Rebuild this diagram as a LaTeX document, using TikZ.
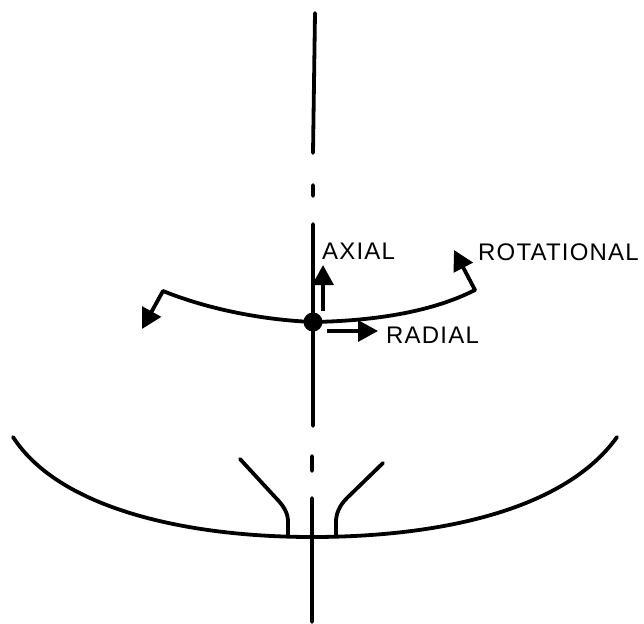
\documentclass[tikz,border=0pt]{standalone}
\usepackage{fontspec}
\setmainfont[LetterSpace=5]{Liberation Sans}
\usetikzlibrary{arrows.meta}
\tikzset{
  ink/.style={line width=3.8pt,black,line cap=round,line join=round},
  axisline/.style={line width=3.8pt,black,line cap=round},
  thin ink/.style={line width=3.3pt,black,line cap=butt},
  bigtip/.style={-{Triangle[length=20pt,width=21pt]}},
  lab/.style={font=\fontsize{24pt}{28pt}\selectfont,inner sep=0pt,anchor=base west,black}
}
\begin{document}
\begin{tikzpicture}[x=1pt,y=-1pt]
\useasboundingbox (0,0) rectangle (644,623);
% axis
\coordinate (a0) at (315,13); \coordinate (a1) at (313,153);
\coordinate (b0) at (313,185); \coordinate (b1) at (313,196);
\coordinate (c0) at (313,224); \coordinate (c1) at (313,426);
\coordinate (e0) at (312,456); \coordinate (e1) at (312,471);
\coordinate (f0) at (312,498); \coordinate (f1) at (312,622);
\draw[axisline] (a0)--(a1) (b0)--(b1) (c0)--(c1) (e0)--(e1) (f0)--(f1);
% ball
\node[circle,fill=black,minimum size=19pt,inner sep=0pt] (ball) at (313,322) {};
% rotational arc
\coordinate (arcL) at (163,291); \coordinate (arcR) at (475,290);
\coordinate (tipL) at (142,329); \coordinate (tipR) at (454,250);
\draw[ink] (arcL) .. controls (210,310) and (265,320) .. (ball.center)
  .. controls (370,321) and (430,313) .. (arcR);
\draw[ink,bigtip] (arcL)--(tipL);
\draw[ink,bigtip] (arcR)--(tipR);
% local arrows
\coordinate (axS) at (323,311); \coordinate (axE) at (323,265);
\coordinate (raS) at (327,331); \coordinate (raE) at (378,331);
\draw[thin ink,bigtip] (axS)--(axE);
\draw[thin ink,bigtip] (raS)--(raE);
% labels
\node[lab] (axial) at (322,259) {AXIAL};
\node[lab] (rot) at (478,260) {ROTATIONAL};
\node[lab] (rad) at (386,343) {RADIAL};
% dish
\coordinate (dL) at (13,437); \coordinate (dR) at (617,437); \coordinate (dM) at (312,537);
\draw[ink] (dL) .. controls (60,510) and (190,537) .. (dM)
  .. controls (440,537) and (565,510) .. (dR);
% feed horn
\coordinate (hL0) at (240,459); \coordinate (hL1) at (288,535);
\coordinate (hR0) at (383,463); \coordinate (hR1) at (336,535);
\draw[ink] (hL0) -- (275,497) .. controls (285,507) and (288,514) .. (288,522) -- (hL1);
\draw[ink] (hR0) -- (347,498) .. controls (339,506) and (336,514) .. (336,522) -- (hR1);
\end{tikzpicture}
\end{document}
